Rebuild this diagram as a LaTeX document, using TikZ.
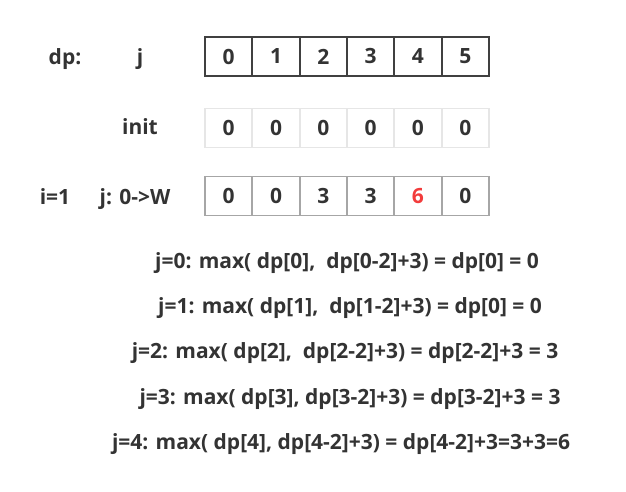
\documentclass[tikz,border=0pt]{standalone}
\usepackage{fontspec}
\setmainfont{Open Sans}
\usetikzlibrary{positioning}
\def\cw{47.33pt}
\def\ch{39pt}
\definecolor{txt}{HTML}{333333}
\definecolor{hot}{HTML}{F23C3C}
\definecolor{darkline}{HTML}{404040}
\definecolor{paleline}{HTML}{E6E6E6}
\definecolor{midline}{HTML}{A6A6A6}
\tikzstyle{cell}=[draw,minimum width=\cw,minimum height=\ch,inner sep=0pt,outer sep=0pt,line width=1.8pt]
\tikzstyle{lbl}=[text=txt,font=\bfseries\fontsize{21}{24}\selectfont,inner sep=0pt]
\newcommand{\hl}[1]{\textcolor{hot}{#1}}
\newcommand{\newRow}[4]{%
  \coordinate (#1-0) at (#2);
  \foreach \v [count=\k] in {#4}{%
    \pgfmathtruncatemacro\p{\k-1}
    \node[cell,lbl,draw=#3,right=of #1-\p] (#1-\k) {\v};}
}

\begin{document}
\begin{tikzpicture}[x=1pt,y=1pt,node distance=0pt]
      \useasboundingbox (0,0) rectangle (626,-492);
      % labels on the left
      \node[lbl,anchor=base] (dp) at (65,-65) {dp:};
      \node[lbl,anchor=base] (jlbl) at (140,-65) {j};
      \node[lbl,anchor=base] (init) at (140,-135) {init};
      \node[lbl,anchor=base] (ilbl) at (55,-204) {i=1};
      \node[lbl,anchor=base] (jrange) at (135,-204) {j: 0->W};
      % the three rows of dp
      \newRow{jrow}{205,-56.5}{darkline}{0,1,2,3,4,5}
      \newRow{initrow}{205,-128}{paleline}{0,0,0,0,0,0}
      \newRow{onerow}{205,-196}{midline}{0,0,3,3,\hl{6},0}
      % the steps for j
      \node[lbl,anchor=base] (eq0) at (347,-268.5) {j=0: max( dp[0],~ dp[0-2]+3) = dp[0] = 0};
      \node[lbl,anchor=base] (eq1) at (350,-313.5) {j=1: max( dp[1],~ dp[1-2]+3) = dp[0] = 0};
      \node[lbl,anchor=base] (eq2) at (345,-358.5) {j=2: max( dp[2],~ dp[2-2]+3) = dp[2-2]+3 = 3};
      \node[lbl,anchor=base] (eq3) at (350,-404.5) {j=3: max( dp[3], dp[3-2]+3) = dp[3-2]+3 = 3};
      \node[lbl,anchor=base] (eq4) at (341,-449.5) {j=4: max( dp[4], dp[4-2]+3) = dp[4-2]+3=3+3=6};
    \end{tikzpicture}
\end{document}
